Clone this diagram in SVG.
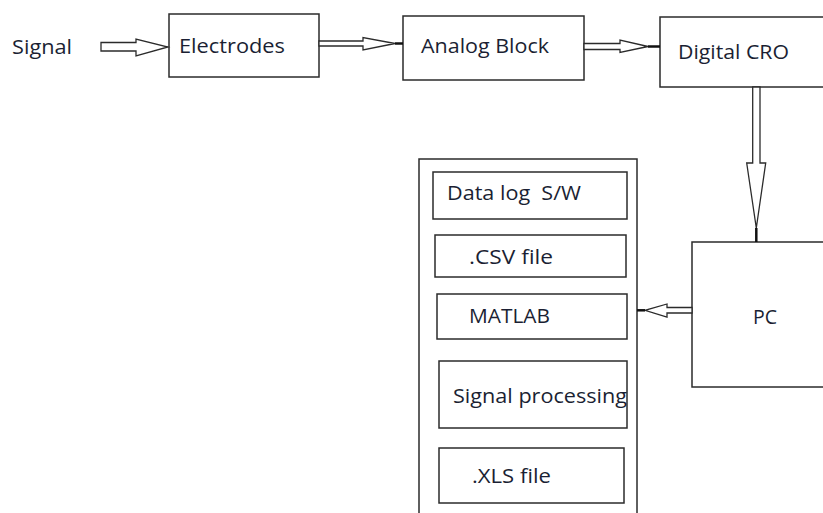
<svg xmlns="http://www.w3.org/2000/svg" width="823" height="513" viewBox="0 0 823 513">
<style>
.box{fill:#fff;stroke:#2b2b2b;stroke-width:1.5}
.inner{fill:none;stroke:#2b2b2b;stroke-width:1.5}
.arr{fill:#fff;stroke:#2b2b2b;stroke-width:1.3;stroke-linejoin:miter}
.stub{stroke:#111;stroke-width:2.5}
text{font-family:"Open Sans","Liberation Sans",sans-serif;font-size:20.5px;fill:#1b1f33;white-space:pre}
</style>
<rect width="823" height="513" fill="#fff"/>
<g id="signal"><text x="12" y="54" textLength="60" lengthAdjust="spacingAndGlyphs">Signal</text></g>
<g id="electrodes"><rect class="box" x="169" y="14" width="150" height="63"/><text x="179" y="53" textLength="106" lengthAdjust="spacingAndGlyphs">Electrodes</text></g>
<g id="analog"><rect class="box" x="403" y="16" width="181" height="64"/><text x="421" y="53" textLength="128" lengthAdjust="spacingAndGlyphs">Analog Block</text></g>
<g id="cro"><rect class="box" x="660" y="17" width="180" height="70"/><text x="678" y="59" textLength="111" lengthAdjust="spacingAndGlyphs">Digital CRO</text></g>
<g id="pc"><rect class="box" x="692" y="242" width="150" height="145"/><text x="753" y="324" textLength="24" lengthAdjust="spacingAndGlyphs">PC</text></g>
<g id="software">
<rect class="box" x="419" y="159" width="218" height="370"/>
<g id="datalog"><rect class="inner" x="433" y="172" width="194" height="47"/><text x="447" y="200" textLength="134" lengthAdjust="spacingAndGlyphs" xml:space="preserve">Data log  S/W</text></g>
<g id="csv"><rect class="inner" x="435" y="235" width="191" height="42"/><text x="469" y="264" textLength="84" lengthAdjust="spacingAndGlyphs">.CSV file</text></g>
<g id="matlab"><rect class="inner" x="437" y="294" width="190" height="45"/><text x="469" y="323" textLength="81" lengthAdjust="spacingAndGlyphs">MATLAB</text></g>
<g id="sigproc"><rect class="inner" x="439" y="361" width="188" height="67"/><text x="453" y="403" textLength="174" lengthAdjust="spacingAndGlyphs">Signal processing</text></g>
<g id="xls"><rect class="inner" x="439" y="448" width="185" height="55"/><text x="472" y="483" textLength="79" lengthAdjust="spacingAndGlyphs">.XLS file</text></g>
</g>
<g id="connectors">
<polygon class="arr" points="101,42.5 136,42.5 136,39 168,47 136,56 136,51 101,51"/>
<polygon class="arr" points="319,41 363,41 363,37.5 395,43.5 363,50 363,46 319,46"/>
<line class="stub" x1="395" y1="43.5" x2="403" y2="43.5"/>
<polygon class="arr" points="584,43.5 620,43.5 620,40 648,46.5 620,52.5 620,49.5 584,49.5"/>
<line class="stub" x1="648" y1="46.5" x2="660" y2="46.5"/>
<polygon class="arr" points="752.7,87 760,87 760,163 765.7,163 756.3,228 746.7,163 752.7,163"/>
<line class="stub" x1="756.3" y1="228" x2="756.3" y2="242"/>
<polygon class="arr" points="692,307.5 667,307.5 667,304 645,310.3 667,317 667,313 692,313"/>
<line class="stub" x1="645" y1="310.3" x2="637" y2="310.3"/>
</g>
</svg>
